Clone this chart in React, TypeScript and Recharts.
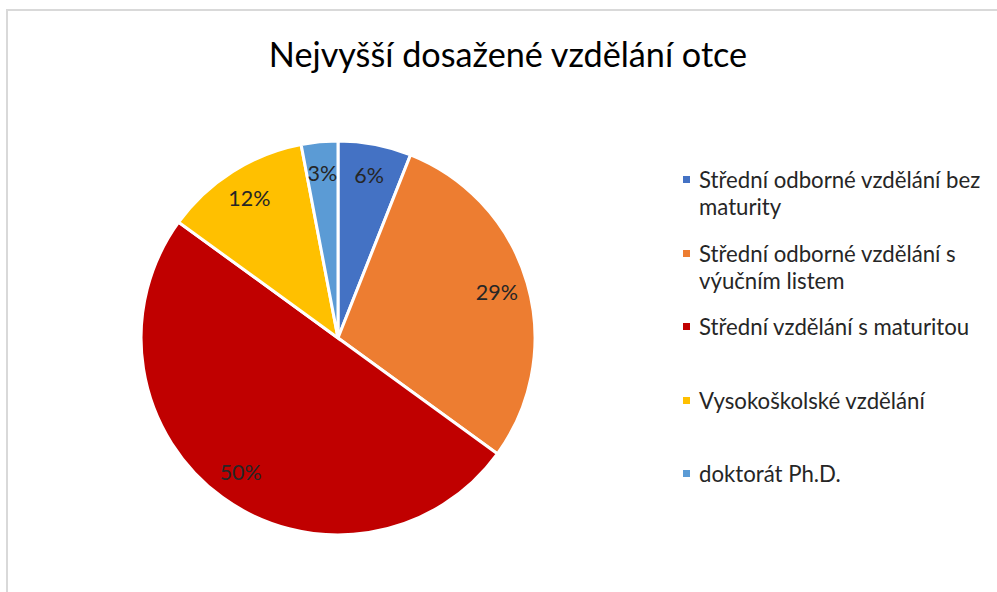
import { PieChart, Pie, Cell, Legend } from 'recharts';

const categories = [
  'Střední odborné vzdělání bez maturity',
  'Střední odborné vzdělání s výučním listem',
  'Střední vzdělání s maturitou',
  'Vysokoškolské vzdělání',
  'doktorát Ph.D.',
];
const shares = [6, 29, 50, 12, 3];
const colors = ['#4472C4', '#ED7D31', '#C00000', '#FFC000', '#5B9BD5'];

const data = categories.map((name, i) => ({ name, value: shares[i] }));

const FONT = 'Lato, "Open Sans", sans-serif';
const RAD = Math.PI / 180;

const renderLabel = (props: any) => {
  const { cx, cy, midAngle, outerRadius, value } = props;
  const r = outerRadius * 0.84;
  const x = cx + r * Math.cos(-midAngle * RAD);
  const y = cy + r * Math.sin(-midAngle * RAD);
  return (
    <text x={x} y={y} fill="#262626" fontSize={21.5} fontFamily={FONT} textAnchor="middle" dominantBaseline="central">
      {`${value}%`}
    </text>
  );
};

const LegendBox = ({ payload }: any) => (
  <div style={{ fontFamily: FONT, fontSize: 22.2, color: '#262626' }}>
    {(payload || []).map((p: any) => (
      <div key={p.value} style={{ height: 73.5, position: 'relative' }}>
        <span style={{ position: 'absolute', left: 0, top: 10, width: 7, height: 7, background: p.color }} />
        <div style={{ marginLeft: 16, width: 292, lineHeight: '27px' }}>{p.value}</div>
      </div>
    ))}
  </div>
);

export default function App() {
  return (
    <div style={{ position: 'absolute', left: 0, top: 0, width: 997, height: 592, background: '#fff', overflow: 'hidden' }}>
      <div style={{ position: 'absolute', left: 6, top: 9, width: 1100, height: 700, borderLeft: '2px solid #d9d9d9', borderTop: '2px solid #d9d9d9' }} />
      <div style={{ position: 'absolute', left: 0, top: 33, width: 1016, textAlign: 'center', fontFamily: FONT, fontSize: 34.2, color: '#000' }}>
        Nejvyšší dosažené vzdělání otce
      </div>
      <div style={{ position: 'absolute', left: 0, top: 0 }}>
        <PieChart width={997} height={592}>
          <Pie
            data={data}
            dataKey="value"
            nameKey="name"
            cx={333}
            cy={333}
            outerRadius={197}
            startAngle={90}
            endAngle={-270}
            stroke="#fff"
            strokeWidth={3}
            label={renderLabel}
            labelLine={false}
            isAnimationActive={false}
          >
            {data.map((d, i) => (
              <Cell key={d.name} fill={colors[i]} />
            ))}
          </Pie>
          <Legend
            layout="vertical"
            content={<LegendBox />}
            wrapperStyle={{ position: 'absolute', left: 683, top: 166, width: 312 }}
          />
        </PieChart>
      </div>
    </div>
  );
}
